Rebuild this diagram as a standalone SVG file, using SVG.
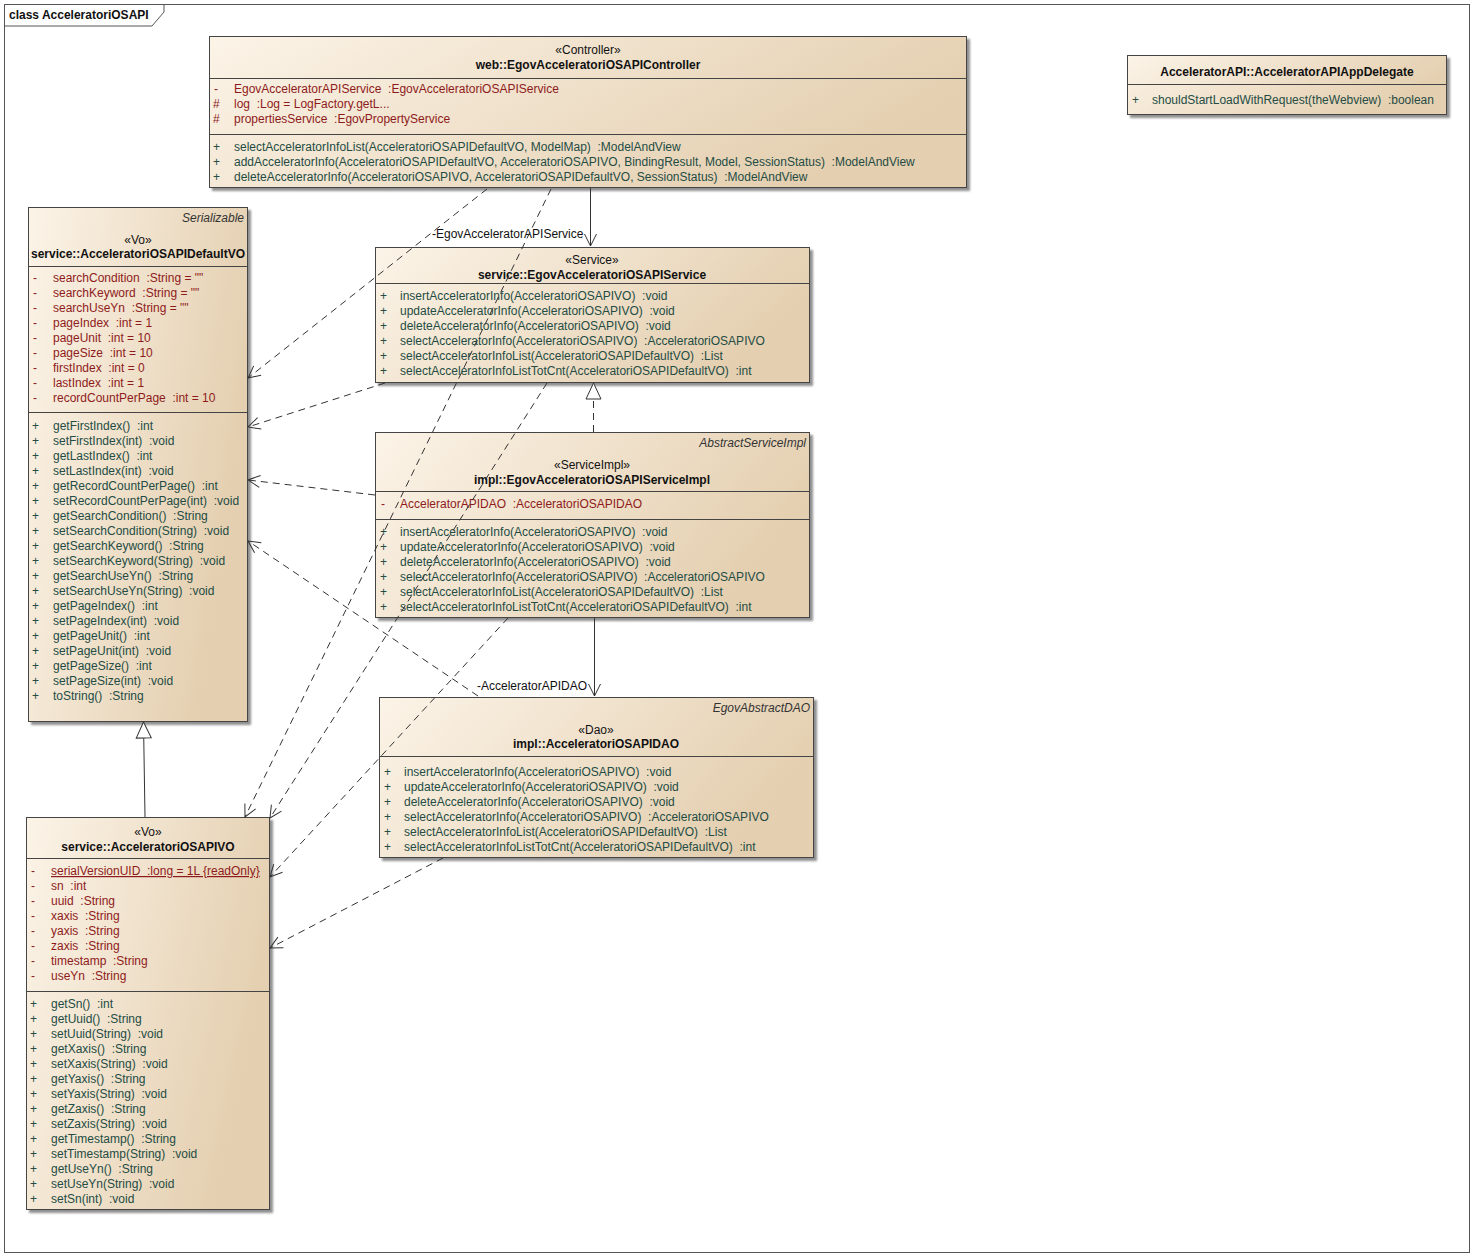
<svg xmlns="http://www.w3.org/2000/svg" width="1474" height="1258" viewBox="0 0 1474 1258">
<defs>
<linearGradient id="g" x1="0" y1="0" x2="1" y2="0.35">
<stop offset="0" stop-color="#fcf4e8"/>
<stop offset="1" stop-color="#e4cfb0"/>
</linearGradient>
<filter id="sh" x="-5%" y="-5%" width="115%" height="115%">
<feDropShadow dx="3" dy="3" stdDeviation="1.2" flood-color="#6a6a6a" flood-opacity="0.75"/>
</filter>
<marker id="open" markerUnits="userSpaceOnUse" markerWidth="14" markerHeight="14" viewBox="0 0 14 14" refX="13" refY="7" orient="auto">
<path d="M1,1 L13,7 L1,13" fill="none" stroke="#333" stroke-width="1"/>
</marker>
<marker id="tri" markerUnits="userSpaceOnUse" markerWidth="18" markerHeight="18" viewBox="0 0 18 18" refX="17" refY="9" orient="auto">
<path d="M1,1.5 L17,9 L1,16.5 Z" fill="#fff" stroke="#333" stroke-width="1"/>
</marker>
</defs>
<style>
text{font-family:"Liberation Sans",Arial,sans-serif;font-size:12px;fill:#111;white-space:pre}
.box{fill:url(#g);stroke:#444;stroke-width:1;filter:url(#sh)}
.sep{stroke:#444;stroke-width:1}
.c{text-anchor:middle}
.n{font-weight:bold;text-anchor:middle}
.it{font-style:italic;text-anchor:end;fill:#333}
.a{fill:#8e1b1b}
.o{fill:#244c44}
.ln{fill:none;stroke:#333;stroke-width:1}
.d{stroke-dasharray:7,5}
</style>
<rect x="4.5" y="4.5" width="1465" height="1248" fill="#fff" stroke="#555"/>
<g id="frame-tab">
<path d="M4.5,4.5 H164 V12 L152,26 H4.5 Z" fill="#fff" stroke="#555"/>
<text x="9" y="19" font-weight="bold">class AcceleratoriOSAPI</text>
</g>

<g id="controller">
<rect class="box" x="209.5" y="36.5" width="757" height="151"/>
<line class="sep" x1="209.5" y1="78.5" x2="966.5" y2="78.5"/>
<line class="sep" x1="209.5" y1="134.5" x2="966.5" y2="134.5"/>
<g transform="translate(0,1)">
<text class="c" x="588" y="53">«Controller»</text>
<text class="n" x="588" y="68">web::EgovAcceleratoriOSAPIController</text>
<text class="a" x="214" y="92">-</text><text class="a" x="234" y="92">EgovAcceleratorAPIService  :EgovAcceleratoriOSAPIService</text>
<text class="a" x="213" y="107">#</text><text class="a" x="234" y="107">log  :Log = LogFactory.getL...</text>
<text class="a" x="213" y="122">#</text><text class="a" x="234" y="122">propertiesService  :EgovPropertyService</text>
<text class="o" x="213" y="150">+</text><text class="o" x="234" y="150">selectAcceleratorInfoList(AcceleratoriOSAPIDefaultVO, ModelMap)  :ModelAndView</text>
<text class="o" x="213" y="165">+</text><text class="o" x="234" y="165">addAcceleratorInfo(AcceleratoriOSAPIDefaultVO, AcceleratoriOSAPIVO, BindingResult, Model, SessionStatus)  :ModelAndView</text>
<text class="o" x="213" y="180">+</text><text class="o" x="234" y="180">deleteAcceleratorInfo(AcceleratoriOSAPIVO, AcceleratoriOSAPIDefaultVO, SessionStatus)  :ModelAndView</text>
</g>
</g>

<g id="delegate">
<rect class="box" x="1127.5" y="55.5" width="319" height="59"/>
<line class="sep" x1="1127.5" y1="84.5" x2="1446.5" y2="84.5"/>
<g transform="translate(0,1)">
<text class="n" x="1287" y="75">AcceleratorAPI::AcceleratorAPIAppDelegate</text>
<text class="o" x="1132" y="103">+</text><text class="o" x="1152" y="103">shouldStartLoadWithRequest(theWebview)  :boolean</text>
</g>
</g>

<g id="defaultvo">
<rect class="box" x="28.5" y="207.5" width="219" height="514"/>
<line class="sep" x1="28.5" y1="266.5" x2="247.5" y2="266.5"/>
<line class="sep" x1="28.5" y1="412.5" x2="247.5" y2="412.5"/>
<g transform="translate(0,1)">
<text class="it" x="244" y="221">Serializable</text>
<text class="c" x="138" y="243">«Vo»</text>
<text class="n" x="138" y="257">service::AcceleratoriOSAPIDefaultVO</text>
<text class="a" x="33" y="281">-</text><text class="a" x="53" y="281">searchCondition  :String = ""</text>
<text class="a" x="33" y="296">-</text><text class="a" x="53" y="296">searchKeyword  :String = ""</text>
<text class="a" x="33" y="311">-</text><text class="a" x="53" y="311">searchUseYn  :String = ""</text>
<text class="a" x="33" y="326">-</text><text class="a" x="53" y="326">pageIndex  :int = 1</text>
<text class="a" x="33" y="341">-</text><text class="a" x="53" y="341">pageUnit  :int = 10</text>
<text class="a" x="33" y="356">-</text><text class="a" x="53" y="356">pageSize  :int = 10</text>
<text class="a" x="33" y="371">-</text><text class="a" x="53" y="371">firstIndex  :int = 0</text>
<text class="a" x="33" y="386">-</text><text class="a" x="53" y="386">lastIndex  :int = 1</text>
<text class="a" x="33" y="401">-</text><text class="a" x="53" y="401">recordCountPerPage  :int = 10</text>
<text class="o" x="32" y="429">+</text><text class="o" x="53" y="429">getFirstIndex()  :int</text>
<text class="o" x="32" y="444">+</text><text class="o" x="53" y="444">setFirstIndex(int)  :void</text>
<text class="o" x="32" y="459">+</text><text class="o" x="53" y="459">getLastIndex()  :int</text>
<text class="o" x="32" y="474">+</text><text class="o" x="53" y="474">setLastIndex(int)  :void</text>
<text class="o" x="32" y="489">+</text><text class="o" x="53" y="489">getRecordCountPerPage()  :int</text>
<text class="o" x="32" y="504">+</text><text class="o" x="53" y="504">setRecordCountPerPage(int)  :void</text>
<text class="o" x="32" y="519">+</text><text class="o" x="53" y="519">getSearchCondition()  :String</text>
<text class="o" x="32" y="534">+</text><text class="o" x="53" y="534">setSearchCondition(String)  :void</text>
<text class="o" x="32" y="549">+</text><text class="o" x="53" y="549">getSearchKeyword()  :String</text>
<text class="o" x="32" y="564">+</text><text class="o" x="53" y="564">setSearchKeyword(String)  :void</text>
<text class="o" x="32" y="579">+</text><text class="o" x="53" y="579">getSearchUseYn()  :String</text>
<text class="o" x="32" y="594">+</text><text class="o" x="53" y="594">setSearchUseYn(String)  :void</text>
<text class="o" x="32" y="609">+</text><text class="o" x="53" y="609">getPageIndex()  :int</text>
<text class="o" x="32" y="624">+</text><text class="o" x="53" y="624">setPageIndex(int)  :void</text>
<text class="o" x="32" y="639">+</text><text class="o" x="53" y="639">getPageUnit()  :int</text>
<text class="o" x="32" y="654">+</text><text class="o" x="53" y="654">setPageUnit(int)  :void</text>
<text class="o" x="32" y="669">+</text><text class="o" x="53" y="669">getPageSize()  :int</text>
<text class="o" x="32" y="684">+</text><text class="o" x="53" y="684">setPageSize(int)  :void</text>
<text class="o" x="32" y="699">+</text><text class="o" x="53" y="699">toString()  :String</text>
</g>
</g>

<g id="service">
<rect class="box" x="375.5" y="247.5" width="434" height="135"/>
<line class="sep" x1="375.5" y1="283.5" x2="809.5" y2="283.5"/>
<g transform="translate(0,1)">
<text class="c" x="592" y="263">«Service»</text>
<text class="n" x="592" y="278">service::EgovAcceleratoriOSAPIService</text>
<text class="o" x="380" y="299">+</text><text class="o" x="400" y="299">insertAcceleratorInfo(AcceleratoriOSAPIVO)  :void</text>
<text class="o" x="380" y="314">+</text><text class="o" x="400" y="314">updateAcceleratorInfo(AcceleratoriOSAPIVO)  :void</text>
<text class="o" x="380" y="329">+</text><text class="o" x="400" y="329">deleteAcceleratorInfo(AcceleratoriOSAPIVO)  :void</text>
<text class="o" x="380" y="344">+</text><text class="o" x="400" y="344">selectAcceleratorInfo(AcceleratoriOSAPIVO)  :AcceleratoriOSAPIVO</text>
<text class="o" x="380" y="359">+</text><text class="o" x="400" y="359">selectAcceleratorInfoList(AcceleratoriOSAPIDefaultVO)  :List</text>
<text class="o" x="380" y="374">+</text><text class="o" x="400" y="374">selectAcceleratorInfoListTotCnt(AcceleratoriOSAPIDefaultVO)  :int</text>
</g>
</g>

<g id="serviceimpl">
<rect class="box" x="375.5" y="432.5" width="434" height="185"/>
<line class="sep" x1="375.5" y1="491.5" x2="809.5" y2="491.5"/>
<line class="sep" x1="375.5" y1="519.5" x2="809.5" y2="519.5"/>
<g transform="translate(0,1)">
<text class="it" x="806" y="446">AbstractServiceImpl</text>
<text class="c" x="592" y="468">«ServiceImpl»</text>
<text class="n" x="592" y="483">impl::EgovAcceleratoriOSAPIServiceImpl</text>
<text class="a" x="381" y="507">-</text><text class="a" x="400" y="507">AcceleratorAPIDAO  :AcceleratoriOSAPIDAO</text>
<text class="o" x="380" y="535">+</text><text class="o" x="400" y="535">insertAcceleratorInfo(AcceleratoriOSAPIVO)  :void</text>
<text class="o" x="380" y="550">+</text><text class="o" x="400" y="550">updateAcceleratorInfo(AcceleratoriOSAPIVO)  :void</text>
<text class="o" x="380" y="565">+</text><text class="o" x="400" y="565">deleteAcceleratorInfo(AcceleratoriOSAPIVO)  :void</text>
<text class="o" x="380" y="580">+</text><text class="o" x="400" y="580">selectAcceleratorInfo(AcceleratoriOSAPIVO)  :AcceleratoriOSAPIVO</text>
<text class="o" x="380" y="595">+</text><text class="o" x="400" y="595">selectAcceleratorInfoList(AcceleratoriOSAPIDefaultVO)  :List</text>
<text class="o" x="380" y="610">+</text><text class="o" x="400" y="610">selectAcceleratorInfoListTotCnt(AcceleratoriOSAPIDefaultVO)  :int</text>
</g>
</g>

<g id="dao">
<rect class="box" x="379.5" y="697.5" width="434" height="160"/>
<line class="sep" x1="379.5" y1="756.5" x2="813.5" y2="756.5"/>
<g transform="translate(0,1)">
<text class="it" x="810" y="711">EgovAbstractDAO</text>
<text class="c" x="596" y="733">«Dao»</text>
<text class="n" x="596" y="747">impl::AcceleratoriOSAPIDAO</text>
<text class="o" x="384" y="775">+</text><text class="o" x="404" y="775">insertAcceleratorInfo(AcceleratoriOSAPIVO)  :void</text>
<text class="o" x="384" y="790">+</text><text class="o" x="404" y="790">updateAcceleratorInfo(AcceleratoriOSAPIVO)  :void</text>
<text class="o" x="384" y="805">+</text><text class="o" x="404" y="805">deleteAcceleratorInfo(AcceleratoriOSAPIVO)  :void</text>
<text class="o" x="384" y="820">+</text><text class="o" x="404" y="820">selectAcceleratorInfo(AcceleratoriOSAPIVO)  :AcceleratoriOSAPIVO</text>
<text class="o" x="384" y="835">+</text><text class="o" x="404" y="835">selectAcceleratorInfoList(AcceleratoriOSAPIDefaultVO)  :List</text>
<text class="o" x="384" y="850">+</text><text class="o" x="404" y="850">selectAcceleratorInfoListTotCnt(AcceleratoriOSAPIDefaultVO)  :int</text>
</g>
</g>

<g id="vo">
<rect class="box" x="26.5" y="817.5" width="243" height="392"/>
<line class="sep" x1="26.5" y1="858.5" x2="269.5" y2="858.5"/>
<line class="sep" x1="26.5" y1="991.5" x2="269.5" y2="991.5"/>
<g transform="translate(0,1)">
<text class="c" x="148" y="835">«Vo»</text>
<text class="n" x="148" y="850">service::AcceleratoriOSAPIVO</text>
<text class="a" x="31" y="874">-</text><text class="a" x="51" y="874" text-decoration="underline">serialVersionUID  :long = 1L {readOnly}</text>
<text class="a" x="31" y="889">-</text><text class="a" x="51" y="889">sn  :int</text>
<text class="a" x="31" y="904">-</text><text class="a" x="51" y="904">uuid  :String</text>
<text class="a" x="31" y="919">-</text><text class="a" x="51" y="919">xaxis  :String</text>
<text class="a" x="31" y="934">-</text><text class="a" x="51" y="934">yaxis  :String</text>
<text class="a" x="31" y="949">-</text><text class="a" x="51" y="949">zaxis  :String</text>
<text class="a" x="31" y="964">-</text><text class="a" x="51" y="964">timestamp  :String</text>
<text class="a" x="31" y="979">-</text><text class="a" x="51" y="979">useYn  :String</text>
<text class="o" x="30" y="1007">+</text><text class="o" x="51" y="1007">getSn()  :int</text>
<text class="o" x="30" y="1022">+</text><text class="o" x="51" y="1022">getUuid()  :String</text>
<text class="o" x="30" y="1037">+</text><text class="o" x="51" y="1037">setUuid(String)  :void</text>
<text class="o" x="30" y="1052">+</text><text class="o" x="51" y="1052">getXaxis()  :String</text>
<text class="o" x="30" y="1067">+</text><text class="o" x="51" y="1067">setXaxis(String)  :void</text>
<text class="o" x="30" y="1082">+</text><text class="o" x="51" y="1082">getYaxis()  :String</text>
<text class="o" x="30" y="1097">+</text><text class="o" x="51" y="1097">setYaxis(String)  :void</text>
<text class="o" x="30" y="1112">+</text><text class="o" x="51" y="1112">getZaxis()  :String</text>
<text class="o" x="30" y="1127">+</text><text class="o" x="51" y="1127">setZaxis(String)  :void</text>
<text class="o" x="30" y="1142">+</text><text class="o" x="51" y="1142">getTimestamp()  :String</text>
<text class="o" x="30" y="1157">+</text><text class="o" x="51" y="1157">setTimestamp(String)  :void</text>
<text class="o" x="30" y="1172">+</text><text class="o" x="51" y="1172">getUseYn()  :String</text>
<text class="o" x="30" y="1187">+</text><text class="o" x="51" y="1187">setUseYn(String)  :void</text>
<text class="o" x="30" y="1202">+</text><text class="o" x="51" y="1202">setSn(int)  :void</text>
</g>
</g>

<g id="connectors">
<path class="ln" d="M590.5,188 L590.5,246" marker-end="url(#open)"/>
<text x="432" y="238">-EgovAcceleratorAPIService</text>
<path class="ln d" d="M487,189 L248,378" marker-end="url(#open)"/>
<path class="ln d" d="M551,189 L245,817" marker-end="url(#open)"/>
<path class="ln d" d="M385,383 L248,427" marker-end="url(#open)"/>
<path class="ln d" d="M547,383 L270,818" marker-end="url(#open)"/>
<path class="ln d" d="M593.5,432 L593.5,383" marker-end="url(#tri)"/>
<path class="ln d" d="M375,495 L248,480" marker-end="url(#open)"/>
<path class="ln d" d="M508,618 L270,877" marker-end="url(#open)"/>
<path class="ln" d="M594.5,618 L594.5,696" marker-end="url(#open)"/>
<text x="477" y="690">-AcceleratorAPIDAO</text>
<path class="ln d" d="M478,696 L248,541" marker-end="url(#open)"/>
<path class="ln d" d="M443,858 L270,948" marker-end="url(#open)"/>
<path class="ln" d="M145,817 L143.5,722" marker-end="url(#tri)"/>
</g>
</svg>
